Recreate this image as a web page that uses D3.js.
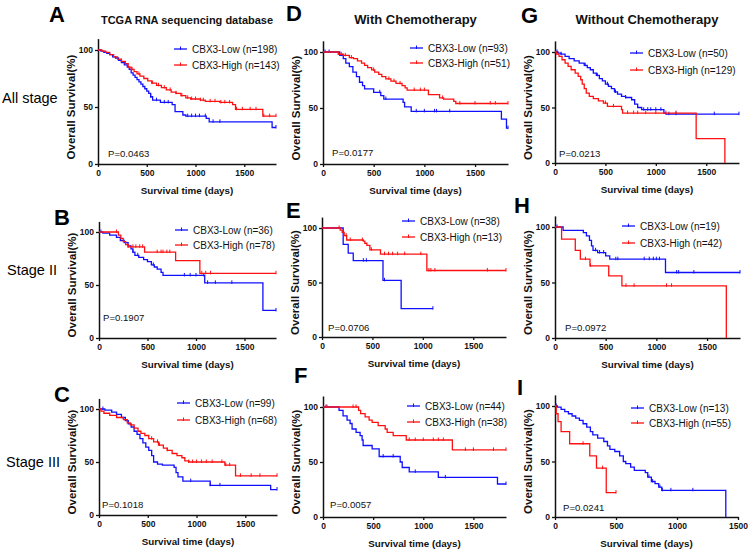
<!DOCTYPE html>
<html><head><meta charset="utf-8">
<script src="https://cdn.jsdelivr.net/npm/d3@7"></script>
<style>
body{margin:0;background:#fff}
text{font-family:Arial,"Liberation Sans",Helvetica,sans-serif}
</style>
</head><body><svg id="chart" width="750" height="551"></svg>
<script>
// ---------------- DATA ----------------
const panelLetters = ["A","D","G","B","E","H","C","F","I"];
const columnTitles = ["TCGA RNA sequencing database","With Chemotherapy","Without Chemotherapy"];
const rowLabels = ["All stage","Stage II","Stage III"];
const pValues = ["P=0.0463","P=0.0177","P=0.0213","P=0.1907","P=0.0706","P=0.0972","P=0.1018","P=0.0057","P=0.0241"];
const legendLow = ["CBX3-Low (n=198)","CBX3-Low (n=93)","CBX3-Low (n=50)","CBX3-Low (n=36)","CBX3-Low (n=38)","CBX3-Low (n=19)","CBX3-Low (n=99)","CBX3-Low (n=44)","CBX3-Low (n=13)"];
const legendHigh = ["CBX3-High (n=143)","CBX3-High (n=51)","CBX3-High (n=129)","CBX3-High (n=78)","CBX3-High (n=13)","CBX3-High (n=42)","CBX3-High (n=68)","CBX3-High (n=38)","CBX3-High (n=55)"];
const xMaxDays = [1825,1825,1825,1825,1825,1825,1825,1825,1500];
const xTicks = [0,500,1000,1500];
const yTicks = [0,50,100];
const yLabel = "Overall Survival(%)";
const xLabel = "Survival time (days)";

// step points [day, survival%] and censor days
const A_lowSteps = [[0,100],[30,99],[60,98],[90,97],[120,96],[150,94],[180,93],[210,91],[240,89],[270,87],[300,85],[320,83],[340,80],[360,78],[380,76],[400,74],[420,72],[440,70],[460,68],[480,66],[500,64],[520,62],[540,59],[560,56],[640,54],[760,52],[790,46],[870,43],[900,42],[1110,40],[1140,37],[1785,32]];
const A_lowCens = [540,600,680,720,920,960,1000,1040,1100,1180,1250,1825];
const A_highSteps = [[0,100],[40,99],[80,98],[120,96],[160,94],[200,92],[240,90],[280,88],[310,85],[340,83],[370,81],[400,79],[430,77],[470,75],[510,73],[550,71],[600,69],[650,67],[700,65],[750,63],[800,62],[850,60],[900,58],[950,57],[1050,56],[1100,55],[1250,54],[1380,52],[1410,48],[1690,42]];
const A_highCens = [350,420,560,620,680,740,800,860,920,960,1000,1050,1080,1150,1200,1260,1300,1350,1420,1480,1560,1620,1700,1760,1825];

const D_lowSteps = [[0,100],[165,97],[200,94],[225,90],[260,87],[295,82],[330,78],[360,73],[390,70],[410,67],[500,64],[570,61],[600,58],[790,55],[805,51],[870,47],[1760,40],[1810,32]];
const D_lowCens = [20,60,560,620,920,1000,1100,1120,1250,1825];
const D_highSteps = [[0,100],[150,98],[200,97],[260,95],[300,94],[340,92],[380,90],[410,88],[440,86],[480,84],[510,82],[550,80],[580,78],[620,76],[670,74],[720,72],[780,70],[810,68],[830,66],[1040,62],[1150,59],[1190,58],[1290,56],[1310,54]];
const D_highCens = [180,220,280,500,650,700,760,900,960,1000,1180,1350,1500,1650,1700,1825];

const G_lowSteps = [[0,100],[30,99],[60,98],[100,96],[140,94],[190,92],[240,90],[290,88],[320,86],[350,84],[380,81],[410,79],[440,76],[470,74],[500,71],[530,69],[560,67],[590,64],[620,62],[660,60],[700,59],[760,57],[790,53],[820,50],[860,48],[1080,45],[1100,44]];
const G_lowCens = [20,60,300,420,520,600,700,880,920,950,1000,1050,1130,1200,1580,1825];
const G_highSteps = [[0,100],[15,98],[40,96],[70,93],[100,90],[130,87],[160,84],[200,81],[230,78],[255,75],[270,71],[290,67],[310,63],[340,60],[380,58],[430,56],[480,54],[520,51],[660,48],[670,45],[1400,22],[1685,0]];
const G_highCens = [500,580,720,780,820,900,1000,1100,1200];

const B_lowSteps = [[0,100],[40,99],[110,97],[180,95],[220,92],[260,90],[300,87],[330,84],[350,81],[370,78],[410,76],[460,74],[500,72],[540,69],[570,67],[600,65],[640,62],[660,59],[1090,52],[1690,26]];
const B_lowCens = [20,350,400,560,880,940,1000,1080,1120,1200,1370,1825];
const B_highSteps = [[0,100],[200,97],[225,94],[250,91],[275,88],[300,86],[470,81],[790,73],[1040,61]];
const B_highCens = [180,300,350,380,420,450,600,640,660,700,730,1060,1100,1150,1825];

const E_lowSteps = [[0,100],[210,85],[260,77],[310,70],[605,52],[785,26]];
const E_lowCens = [410,440,620,1100];
const E_highSteps = [[0,100],[180,98],[200,96],[220,93],[245,89],[410,88],[425,86],[445,84],[475,80],[580,76],[1040,61]];
const E_highCens = [170,240,280,400,490,620,660,700,750,820,980,1060,1080,1120,1640,1825];

const H_lowSteps = [[0,100],[80,97],[280,95],[310,92],[340,88],[360,83],[375,79],[420,77],[500,74],[540,71],[1090,59]];
const H_lowCens = [20,400,440,480,600,620,880,930,970,1000,1030,1200,1220,1370,1825];
const H_highSteps = [[0,100],[65,89],[200,79],[250,71],[345,65],[530,56],[660,47],[1690,0]];
const H_highCens = [300,350,700,780,1100,1150];

const C_lowSteps = [[0,100],[60,99],[130,97],[180,95],[230,92],[270,89],[300,86],[330,83],[360,79],[390,76],[420,72],[450,68],[480,64],[510,61],[540,56],[560,50],[600,48],[650,47],[770,45],[790,40],[810,36],[860,32],[1140,28],[1760,24]];
const C_lowCens = [40,940,1140,1240,1825];
const C_highSteps = [[0,100],[20,98],[50,96],[110,94],[180,92],[250,90],[290,87],[320,85],[360,82],[400,79],[430,77],[470,75],[510,72],[560,69],[610,66],[660,63],[700,61],[750,58],[800,56],[850,54],[880,51],[920,50],[1290,47],[1400,37]];
const C_highCens = [540,600,620,700,920,960,1000,1050,1100,1160,1260,1300,1340,1450,1560,1650,1825];

const F_lowSteps = [[0,100],[160,97],[200,92],[240,88],[270,85],[290,80],[330,77],[370,74],[390,70],[400,65],[490,62],[560,55],[770,50],[790,45],[860,41],[1150,36],[1740,30]];
const F_lowCens = [30,600,700,920,1220,1825];
const F_highSteps = [[0,100],[355,97],[375,94],[420,91],[460,88],[490,86],[550,83],[620,80],[640,77],[700,74],[830,70],[1290,61]];
const F_highCens = [40,300,330,860,920,1000,1100,1150,1200,1420,1500,1700,1825];

const I_lowSteps = [[0,100],[20,99],[50,97],[80,95],[110,93],[140,91],[170,89],[200,87],[230,84],[260,81],[290,77],[310,74],[350,71],[400,68],[430,64],[450,61],[490,59],[530,55],[560,50],[580,48],[620,45],[650,42],[740,40],[760,36],[790,32],[820,30],[850,27],[875,24],[1400,0]];
const I_lowCens = [10,770,800,860,880,950,1130];
const I_highSteps = [[0,100],[10,93],[25,86],[50,77],[120,66],[285,55],[340,44],[420,22]];
const I_highCens = [230,390,500];

const lowSteps = [A_lowSteps,D_lowSteps,G_lowSteps,B_lowSteps,E_lowSteps,H_lowSteps,C_lowSteps,F_lowSteps,I_lowSteps];
const lowCens = [A_lowCens,D_lowCens,G_lowCens,B_lowCens,E_lowCens,H_lowCens,C_lowCens,F_lowCens,I_lowCens];
const highSteps = [A_highSteps,D_highSteps,G_highSteps,B_highSteps,E_highSteps,H_highSteps,C_highSteps,F_highSteps,I_highSteps];
const highCens = [A_highCens,D_highCens,G_highCens,B_highCens,E_highCens,H_highCens,C_highCens,F_highCens,I_highCens];

// ---------------- LAYOUT ----------------
const layout = [
  {x0:98, x1:276, y100:50, y0:164, lx:49, ly:22, legX:192, legY:[49,65], px:108, py:156.5},
  {x0:323,x1:508, y100:52, y0:164, lx:286,ly:21, legX:428, legY:[48,63], px:332, py:155.5},
  {x0:555,x1:739, y100:52, y0:163, lx:521,ly:23, legX:648, legY:[53,70], px:559, py:156.5},
  {x0:99, x1:276, y100:232,y0:338, lx:54, ly:225,legX:193, legY:[230,245],px:103, py:320.5},
  {x0:322,x1:506, y100:228,y0:337, lx:286,ly:218,legX:420, legY:[221,237],px:328, py:330.5},
  {x0:555,x1:740, y100:227,y0:338, lx:514,ly:213,legX:640, legY:[226,243],px:565, py:330.5},
  {x0:99, x1:277, y100:409,y0:515, lx:54, ly:402,legX:195, legY:[403,420],px:102, py:507.5},
  {x0:323,x1:506, y100:407,y0:517, lx:294,ly:383,legX:425, legY:[406,422],px:330, py:507.5},
  {x0:555,x1:738, y100:406,y0:517, lx:517,ly:395,legX:649, legY:[408,423],px:563, py:510.5}
];
const titleY = 24;
const rowLabelPos = [[2,103],[7,275],[6,467]];
const BLUE = "#1010ff", RED = "#ff1010", INK = "#111";

const svg = d3.select("#chart");
svg.append("rect").attr("width",750).attr("height",551).attr("fill","#fff");

function survAt(steps, t){ let s = steps[0][1]; for (const [ts,v] of steps) if (ts <= t) s = v; return s; }

layout.forEach((L, i) => {
  const g = svg.append("g");
  const x = d3.scaleLinear().domain([0, xMaxDays[i]]).range([L.x0, L.x1]);
  const y = d3.scaleLinear().domain([0, 100]).range([L.y0, L.y100]);
  const yAx = d3.scaleLinear().domain([0, 110]).range([L.y0, y(110)]);

  // axes
  const xa = g.append("g").attr("transform",`translate(0,${L.y0})`)
    .call(d3.axisBottom(x).tickValues(xTicks).tickFormat(d3.format("d")).tickSize(3).tickSizeOuter(0).tickPadding(3));
  const ya = g.append("g").attr("transform",`translate(${L.x0},0)`)
    .call(d3.axisLeft(yAx).tickValues(yTicks).tickFormat(d3.format("d")).tickSize(3).tickSizeOuter(0).tickPadding(2));
  [xa, ya].forEach(a => {
    a.select(".domain").attr("stroke",INK).attr("stroke-width",1.5);
    a.selectAll(".tick line").attr("stroke",INK).attr("stroke-width",1.3);
    a.selectAll(".tick text").attr("fill",INK).attr("font-size","8.5px").attr("font-weight","bold")
      .attr("font-family",'Arial,"Liberation Sans",sans-serif');
  });

  // curves
  const line = d3.line().x(d => x(d[0])).y(d => y(d[1])).curve(d3.curveStepAfter);
  const series = [[lowSteps[i], lowCens[i], BLUE],[highSteps[i], highCens[i], RED]];
  series.forEach(([steps, cens, col]) => {
    const last = steps[steps.length-1];
    const end = Math.max(last[0], d3.max(cens));
    const pts = steps.concat([[end, last[1]]]);
    g.append("path").attr("d", line(pts)).attr("fill","none").attr("stroke",col).attr("stroke-width",1.3);
    g.selectAll(null).data(cens).enter().append("line")
      .attr("x1", d => x(d)).attr("x2", d => x(d))
      .attr("y1", d => y(survAt(steps,d)) - 2.5).attr("y2", d => y(survAt(steps,d)) + 1)
      .attr("stroke", col).attr("stroke-width", 1);
  });

  // legend
  [[legendLow[i], BLUE],[legendHigh[i], RED]].forEach(([txt,col], k) => {
    const ly = L.legY[k];
    g.append("line").attr("x1",L.legX-18).attr("x2",L.legX-5).attr("y1",ly).attr("y2",ly)
      .attr("stroke",col).attr("stroke-width",1.3);
    g.append("line").attr("x1",L.legX-11.5).attr("x2",L.legX-11.5).attr("y1",ly-2.5).attr("y2",ly+1)
      .attr("stroke",col).attr("stroke-width",1);
    g.append("text").attr("x",L.legX).attr("y",ly+3.5).attr("font-size","10px").attr("fill",INK).text(txt);
  });

  // p value
  g.append("text").attr("x",L.px).attr("y",L.py).attr("font-size","9.6px").attr("fill",INK).text(pValues[i]);

  // axis titles
  g.append("text").attr("x",(L.x0+L.x1)/2).attr("y",L.y0+30).attr("text-anchor","middle")
    .attr("font-size","9.8px").attr("font-weight","bold").attr("fill",INK).text(xLabel);
  g.append("text").attr("transform",`translate(${L.x0-23},${(L.y0+L.y100)/2}) rotate(-90)`)
    .attr("text-anchor","middle").attr("font-size","11.5px").attr("font-weight","bold").attr("fill",INK).text(yLabel);

  // panel letter
  g.append("text").attr("x",L.lx).attr("y",L.ly).attr("font-size","22px").attr("font-weight","bold")
    .attr("fill","#000").text(panelLetters[i]);

  // column titles
  if (i < 3) {
    g.append("text").attr("x",(L.x0+L.x1)/2).attr("y",titleY).attr("text-anchor","middle")
      .attr("font-size", i === 0 ? "11px" : "13px").attr("font-weight","bold").attr("fill",INK).text(columnTitles[i]);
  }
});

rowLabels.forEach((t, r) => {
  svg.append("text").attr("x",rowLabelPos[r][0]).attr("y",rowLabelPos[r][1])
    .attr("font-size","14.5px").attr("fill","#000").text(t);
});
</script>
</body></html>
